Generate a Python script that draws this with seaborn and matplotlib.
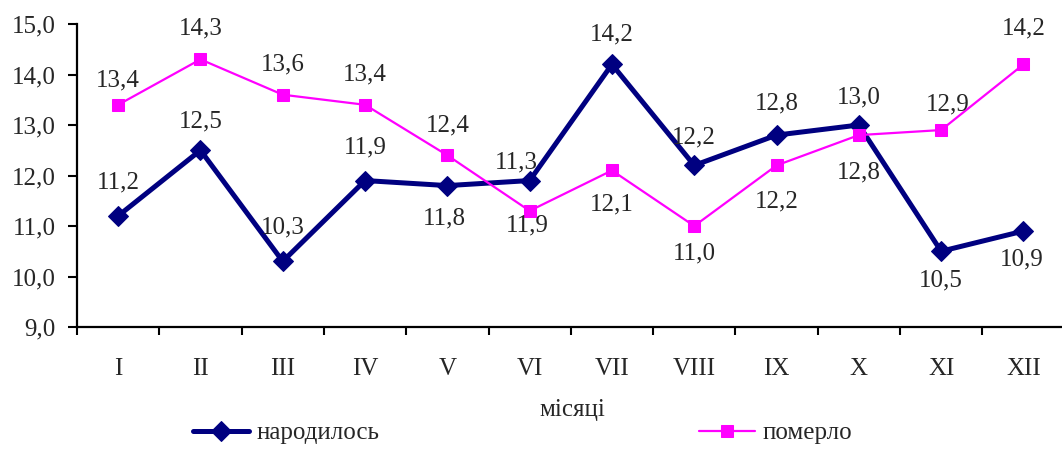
import pandas as pd
import matplotlib.pyplot as plt
import seaborn as sns

# ── Data ──────────────────────────────────────────────
months = ['I', 'II', 'III', 'IV', 'V', 'VI', 'VII', 'VIII', 'IX', 'X', 'XI', 'XII']
born = [11.2, 12.5, 10.3, 11.9, 11.8, 11.9, 14.2, 12.2, 12.8, 13.0, 10.5, 10.9]
died = [13.4, 14.3, 13.6, 13.4, 12.4, 11.3, 12.1, 11.0, 12.2, 12.8, 12.9, 14.2]

df = pd.DataFrame({'pos': range(len(months)), 'month': months,
                   'народилось': born, 'померло': died})

# label offsets in pixels (dx, dy), dy > 0 means above the point
born_off = [(0, 33), (0, 29), (0, 34), (0, 33), (-3, -33), (-2, -45),
            (0, 30), (0, 28), (0, 32), (0, 28), (0, -29), (-2, -28)]
died_off = [(0, 24), (0, 31), (0, 30), (0, 30), (0, 30), (-13, 48),
            (0, -34), (0, -27), (0, -36), (0, -37), (7, 26), (0, 36)]

NAVY = '#000080'
MAGENTA = '#FF00FF'

sns.set_theme(style='ticks')
plt.rcParams['font.family'] = ['Liberation Serif', 'DejaVu Serif']
FS = 18

fig = plt.figure(figsize=(10.62, 4.5), dpi=100)
ax = fig.add_axes([77 / 1062, 123 / 450, 987.6 / 1062, 303 / 450])

sns.lineplot(data=df, x='pos', y='народилось', ax=ax, color=NAVY, linewidth=3.6,
             marker='D', markersize=10, markeredgecolor=NAVY, label='народилось')
sns.lineplot(data=df, x='pos', y='померло', ax=ax, color=MAGENTA, linewidth=1.6,
             marker='s', markersize=8.5, markeredgecolor=MAGENTA, label='померло')

px = 0.72  # pixels -> points
for i, v in enumerate(born):
    dx, dy = born_off[i]
    ax.annotate(f'{v:.1f}'.replace('.', ','), (i, v), xytext=(dx * px, dy * px),
                textcoords='offset points', ha='center', va='center', fontsize=FS)
for i, v in enumerate(died):
    dx, dy = died_off[i]
    ax.annotate(f'{v:.1f}'.replace('.', ','), (i, v), xytext=(dx * px, dy * px),
                textcoords='offset points', ha='center', va='center', fontsize=FS)

ax.set_xlim(-0.5, 11.5)
ax.set_ylim(9, 15)
ax.set_yticks([9, 10, 11, 12, 13, 14, 15])
ax.set_yticklabels([f'{t:.1f}'.replace('.', ',') for t in range(9, 16)], fontsize=FS)
ax.set_xticks(range(len(months)))
ax.set_xticklabels(months, fontsize=FS)
ax.set_xticks([i - 0.5 for i in range(len(months) + 1)], minor=True)
ax.tick_params(axis='x', which='major', length=0, pad=22)
ax.tick_params(axis='x', which='minor', length=6, width=1.5, direction='out', color='black')
ax.tick_params(axis='y', length=6.5, width=1.5, direction='out', pad=9, color='black')
ax.set_xlabel('')
ax.set_ylabel('')
for s in ['top', 'right']:
    ax.spines[s].set_visible(False)
for s in ['left', 'bottom']:
    ax.spines[s].set_linewidth(1.6)
    ax.spines[s].set_color('black')
ax.grid(False)

ax.get_legend().remove()
handles, labels = ax.get_legend_handles_labels()
fig.legend(handles, labels, loc='center', bbox_to_anchor=(522.5 / 1062, 17 / 450),
           ncol=2, frameon=False, fontsize=FS, handlelength=2.24,
           handletextpad=0.28, columnspacing=12.8)

fig.text(572 / 1062, 40 / 450, 'місяці', ha='center', va='center', fontsize=FS)

plt.savefig('out.png', dpi=100)
plt.close()
